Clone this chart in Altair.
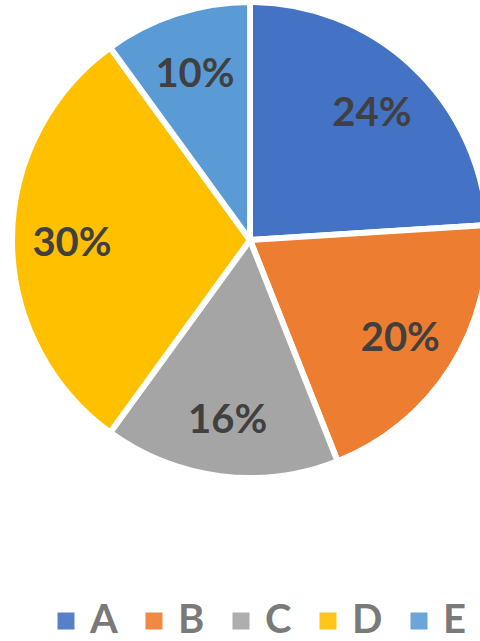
import altair as alt
import pandas as pd

categories = ["A", "B", "C", "D", "E"]
values = [24, 20, 16, 30, 10]
labels = ["24%", "20%", "16%", "30%", "10%"]
colors = ["#4472C4", "#ED7D31", "#A5A5A5", "#FFC000", "#5B9BD5"]

df = pd.DataFrame({"cat": categories, "val": values, "lab": labels, "idx": list(range(len(categories)))})

base = alt.Chart(df).encode(
    theta=alt.Theta("val:Q", stack=True),
    order=alt.Order("idx:Q"),
    x=alt.value(250),
    y=alt.value(240),
)

arcs = base.mark_arc(outerRadius=238, stroke="white", strokeWidth=6).encode(
    color=alt.Color(
        "cat:N",
        scale=alt.Scale(domain=categories, range=colors),
        legend=alt.Legend(
            title=None,
            orient="none",
            direction="horizontal",
            legendX=46,
            legendY=601,
            symbolType="square",
            symbolSize=289,
            symbolStrokeWidth=0,
            symbolOpacity=0.9,
            labelFont="Lato",
            labelFontWeight="bold",
            labelFontSize=40,
            labelColor="#7a7a7a",
            labelOffset=4,
            columnPadding=16,
        ),
    )
)

texts = base.mark_text(
    radius=178, font="Lato", fontWeight="bold", fontSize=40, color="#404040", dy=4
).encode(text="lab:N")

chart = (
    alt.layer(arcs, texts)
    .properties(width=480, height=641, autosize="none", padding=0)
    .configure_view(stroke=None)
)

chart.save("out.html", embed_options={"renderer": "svg", "actions": False})
